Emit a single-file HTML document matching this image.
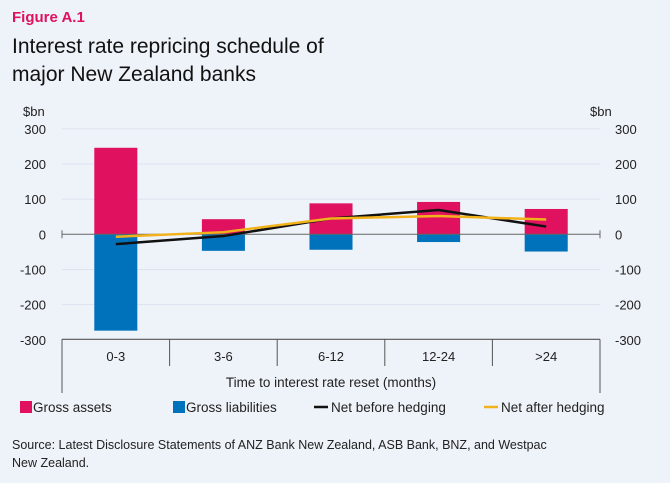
<!DOCTYPE html>
<html><head><meta charset="utf-8"><style>
body{margin:0;width:670px;height:483px;background:#eef2f9;font-family:"Liberation Sans",sans-serif;overflow:hidden;position:relative}
.t{position:absolute;white-space:nowrap}
</style></head><body>
<div class="t" style="left:12px;top:9px;font-size:15px;color:#e0115f;font-weight:bold">Figure A.1</div>
<div class="t" style="left:12px;top:33px;font-size:21px;line-height:28px;color:#111">Interest rate repricing schedule of<br>major New Zealand banks</div>
<svg id="c" width="670" height="483" style="position:absolute;left:0;top:0"></svg>
<div class="t" style="left:12px;top:436px;font-size:12.5px;line-height:18px;color:#222">Source: Latest Disclosure Statements of ANZ Bank New Zealand, ASB Bank, BNZ, and Westpac<br>New Zealand.</div>
<script>
const categories=["0-3","3-6","6-12","12-24",">24"];
const grossAssets=[246,43,88,92,72];
const grossLiabilities=[-274,-47,-44,-22,-49];
const netBefore=[-28,-5,45,69,22];
const netAfter=[-7,6,45,52,42];
const ticks=[300,200,100,0,-100,-200,-300];
const svg=document.getElementById('c');const NS='http://www.w3.org/2000/svg';
function mk(t,a,p){const e=document.createElementNS(NS,t);for(const k in a)e.setAttribute(k,a[k]);(p||svg).appendChild(e);return e;}
const L=62,R=600,T=128.3,B=339.3;
const y=v=>234.3-v*(B-T)/600;
const cw=(R-L)/categories.length;
const xc=i=>L+cw*(i+0.5);
ticks.forEach(v=>{
 if(v!==0&&v!==-300){const g=mk('line',{x1:L,x2:R,y1:y(v),y2:y(v),stroke:'#dde3ee','stroke-width':1});}
 const a=mk('text',{x:46,y:y(v)+5,'text-anchor':'end','font-size':13,fill:'#222'});a.textContent=v;
 
 const b=mk('text',{x:615,y:y(v)+5,'font-size':13,fill:'#222'});b.textContent=v;
 
});
const u1=mk('text',{x:23,y:116,'font-size':13,fill:'#222'});u1.textContent='$bn';
const u2=mk('text',{x:590,y:116,'font-size':13,fill:'#222'});u2.textContent='$bn';
const bw=cw*0.4;
categories.forEach((c,i)=>{
 const a=mk('rect',{x:xc(i)-bw/2,y:y(grossAssets[i]),width:bw,height:y(0)-y(grossAssets[i]),fill:'#e0115f'});
 
 const l=mk('rect',{x:xc(i)-bw/2,y:y(0),width:bw,height:y(grossLiabilities[i])-y(0),fill:'#0072bc'});
 
 const t=mk('text',{x:xc(i),y:y(-300)+21,'text-anchor':'middle','font-size':13,fill:'#222'});t.textContent=c;
 
});
const z=mk('line',{x1:L,x2:R,y1:y(0),y2:y(0),stroke:'#666','stroke-width':1});
mk('line',{x1:L,x2:L,y1:y(0)-4,y2:y(0)+4,stroke:'#666'});mk('line',{x1:R,x2:R,y1:y(0)-4,y2:y(0)+4,stroke:'#666'});
const xa=mk('line',{x1:L,x2:R,y1:B,y2:B,stroke:'#555','stroke-width':1.2});
for(let i=0;i<=categories.length;i++){const xx=L+cw*i;mk('line',{x1:xx,x2:xx,y1:B,y2:(i==0||i==categories.length)?393:366,stroke:'#555'});}
const xt=mk('text',{x:(L+R)/2,y:387,'text-anchor':'middle','font-size':13.5,fill:'#222'});xt.textContent='Time to interest rate reset (months)';

function line(d,col,n){const p=mk('polyline',{points:d.map((v,i)=>xc(i)+','+y(v)).join(' '),fill:'none',stroke:col,'stroke-width':2.5});}
line(netBefore,'#111','line-net-before');
line(netAfter,'#f2b21b','line-net-after');
const lg=[['rect','#e0115f','Gross assets',20],['rect','#0072bc','Gross liabilities',173],['line','#111','Net before hedging',314],['line','#f2b21b','Net after hedging',484]];
lg.forEach(([k,c,t,x])=>{
 const g=mk('g',{});
 if(k==='rect')mk('rect',{x:x,y:401,width:12,height:12,fill:c},g);else mk('line',{x1:x,x2:x+14,y1:407,y2:407,stroke:c,'stroke-width':2.5},g);
 const tx=mk('text',{x:x+(k==='rect'?13:17),y:412,'font-size':13.5,fill:'#222'},g);tx.textContent=t;
});
</script>
</body></html>
